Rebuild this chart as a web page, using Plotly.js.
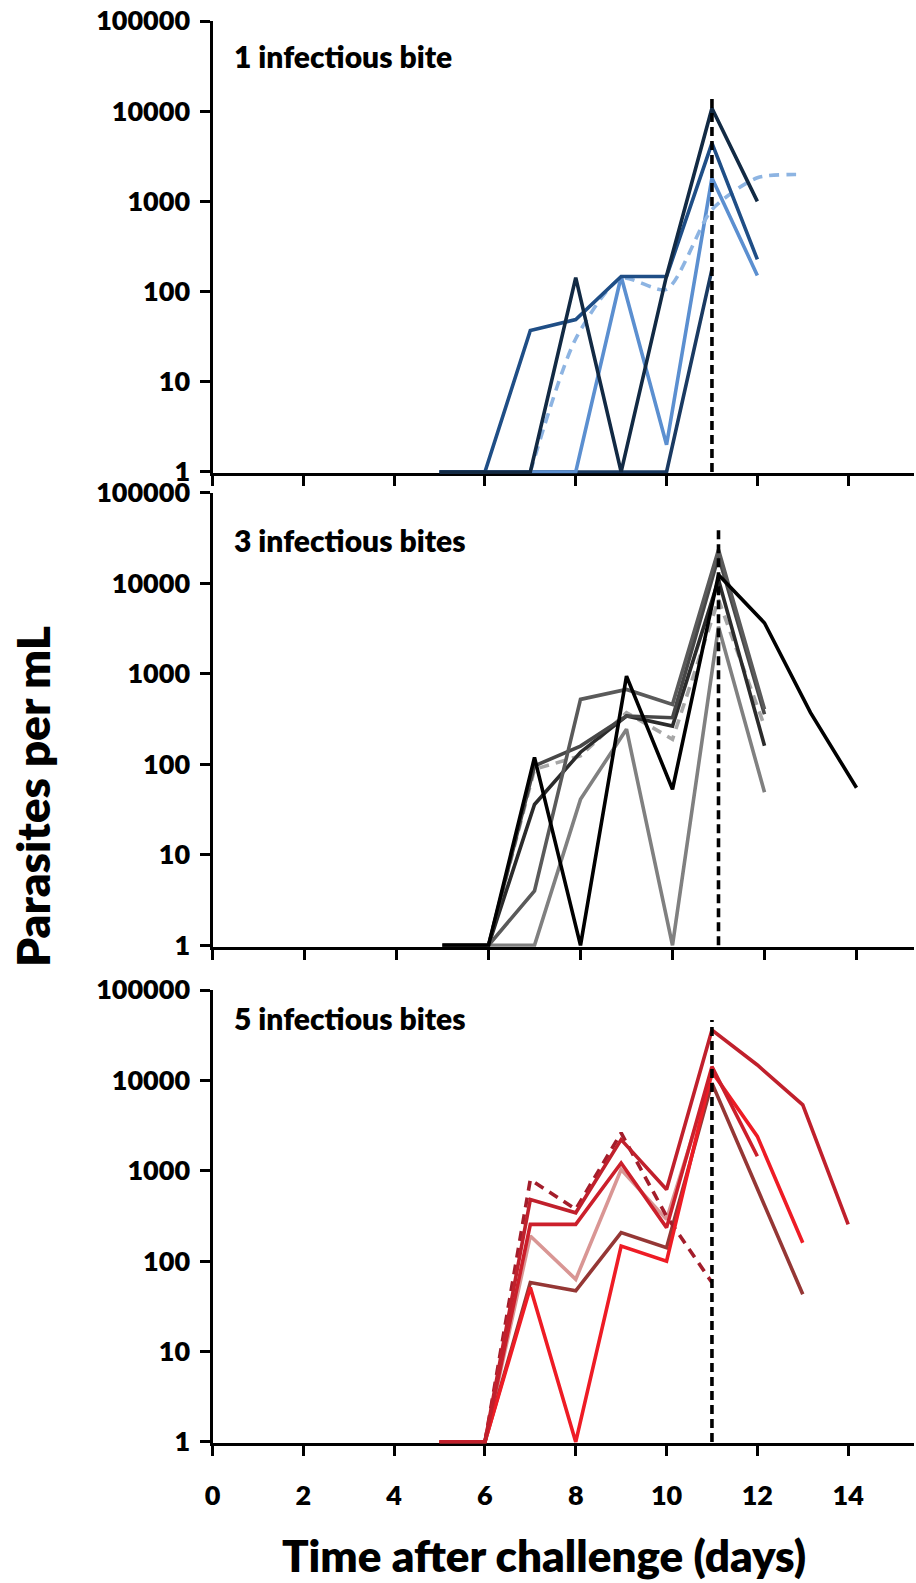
<!DOCTYPE html>
<html><head><meta charset="utf-8">
<script src="https://cdn.plot.ly/plotly-3.0.1.min.js"></script>
<style>body{margin:0;background:#fff}#chart{width:916px;height:1583px}</style>
</head><body><div id="chart"></div>
<script>
// ---------- DATA ----------
const panelLabels = ["1 infectious bite", "3 infectious bites", "5 infectious bites"];
const yTickVals = [1, 10, 100, 1000, 10000, 100000];
const yTickText = ["1", "10", "100", "1000", "10000", "100000"];
const xTickVals = [0, 2, 4, 6, 8, 10, 12, 14];
const xTickText = ["0", "2", "4", "6", "8", "10", "12", "14"];
const markerDay = 11;
const markerTop = [15500, 42000, 46500];

// Panel 1 (1 infectious bite)
const p1aDays = [5, 6, 7, 8, 9, 10, 11, 12];
const p1aVals = [1, 1, 37, 49, 147, 147, 4430, 227];
const p1bDays = [5, 6, 7, 8, 9, 10, 11, 12];
const p1bVals = [1, 1, 1, 143, 1, 150, 10800, 1000];
const p1cDays = [5, 6, 7, 8, 9, 10, 11, 12];
const p1cVals = [1, 1, 1, 1, 147, 2, 1820, 151];
const p1dDays = [5, 6, 7, 8, 9, 10, 11];
const p1dVals = [1, 1, 1, 1, 1, 1, 176];
const p1eDays = [7, 8, 9, 10, 11, 12, 13];
const p1eVals = [1, 30, 140, 106, 810, 1830, 1980];

// Panel 2 (3 infectious bites)
const p2aDays = [5, 6, 7, 8, 9, 10, 11, 12, 13, 14];
const p2aVals = [1, 1, 119, 1, 941, 53, 12400, 3640, 372, 55];
const p2bDays = [5, 6, 7, 8, 9, 10, 11, 12];
const p2bVals = [1, 1, 4, 521, 671, 459, 23400, 405];
const p2cDays = [5, 6, 7, 8, 9, 10, 11, 12];
const p2cVals = [1, 1, 96, 159, 341, 327, 19700, 356];
const p2dDays = [5, 6, 7, 8, 9, 10, 11, 12];
const p2dVals = [1, 1, 36, 136, 341, 264, 10900, 160];
const p2eDays = [5, 6, 7, 8, 9, 10, 11, 12];
const p2eVals = [1, 1, 1, 41, 244, 1, 3300, 49];
const p2fDays = [6, 7, 8, 9, 10, 11, 12];
const p2fVals = [1, 88, 124, 372, 189, 6580, 264];

// Panel 3 (5 infectious bites)
const p3aDays = [5, 6, 7, 8, 9, 10, 11, 12, 13, 14];
const p3aVals = [1, 1, 482, 343, 2210, 621, 36000, 14800, 5370, 255];
const p3bDays = [5, 6, 7, 8, 9, 10, 11, 12];
const p3bVals = [1, 1, 255, 255, 1220, 235, 14200, 1450];
const p3cDays = [5, 6, 7, 8, 9, 10, 11, 12, 13];
const p3cVals = [1, 1, 51, 1, 147, 100, 12500, 2400, 160];
const p3dDays = [5, 6, 7, 8, 9, 10, 11, 12, 13];
const p3dVals = [1, 1, 58, 47, 207, 141, 9330, 620, 43];
const p3eDays = [5, 6, 7, 8, 9, 10, 11];
const p3eVals = [1, 1, 190, 63, 1030, 290, 11500];
const p3fDays = [6, 7, 8, 9, 10, 11];
const p3fVals = [1, 800, 375, 2620, 314, 58];

// ---------- STYLE / LAYOUT ----------
const W = 916, H = 1583;
const FONT = "Lato, 'Open Sans', sans-serif";
const px = v => v / W;
const py = v => 1 - v / H;
const LW = 3.6;

function line(x, y, color, ax, dash, shape) {
  return {
    x: x, y: y, type: "scatter", mode: "lines",
    xaxis: ax[0], yaxis: ax[1], hoverinfo: "skip",
    line: {color: color, width: LW, dash: dash || "solid", shape: shape || "linear", smoothing: 0.7}
  };
}
const A1 = ["x", "y"], A2 = ["x2", "y2"], A3 = ["x3", "y3"];
const DASH = "10px,7px";
const VDASH = "9px,5px";

const traces = [
  line(p1dDays, p1dVals, "#1a3a62", A1),
  line(p1cDays, p1cVals, "#5b8fd0", A1),
  line(p1eDays, p1eVals, "#8db4e2", A1, DASH, "spline"),
  line(p1aDays, p1aVals, "#1f4e86", A1),
  line(p1bDays, p1bVals, "#122a44", A1),
  line([markerDay, markerDay], [1, markerTop[0]], "#000000", A1, VDASH),

  line(p2eDays, p2eVals, "#808080", A2),
  line(p2fDays, p2fVals, "#a6a6a6", A2, DASH),
  line(p2dDays, p2dVals, "#2b2b2b", A2),
  line(p2cDays, p2cVals, "#474747", A2),
  line(p2bDays, p2bVals, "#5a5a5a", A2),
  line(p2aDays, p2aVals, "#000000", A2),
  line([markerDay, markerDay], [1, markerTop[1]], "#000000", A2, VDASH),

  line(p3eDays, p3eVals, "#d99694", A3),
  line(p3dDays, p3dVals, "#953735", A3),
  line(p3fDays, p3fVals, "#a31d2b", A3, DASH),
  line(p3cDays, p3cVals, "#ee1c25", A3),
  line(p3bDays, p3bVals, "#cc1f2b", A3),
  line(p3aDays, p3aVals, "#c0202c", A3),
  line([markerDay, markerDay], [1, markerTop[2]], "#000000", A3, VDASH)
];

const TICKFONT = {family: FONT, size: 27, color: "#000", weight: 800};
const xDom = [px(212.5), px(914)];
function xAxis(anchor, range, labels) {
  return {
    domain: xDom, anchor: anchor, range: range, showgrid: false, zeroline: false,
    showline: true, linecolor: "#000", linewidth: 3, layer: "below traces",
    ticks: "outside", ticklen: 10, tickwidth: 3, tickcolor: "#000",
    tickmode: "array", tickvals: xTickVals, ticktext: xTickText,
    showticklabels: labels, ticklabelstandoff: 16, tickfont: TICKFONT
  };
}
function yAxis(anchor, top, bottom) {
  return {
    domain: [py(bottom), py(top)], anchor: anchor, type: "log", range: [-0.015, 5],
    showgrid: false, zeroline: false, showline: true, linecolor: "#000", linewidth: 3,
    layer: "below traces", ticks: "outside", ticklen: 10, tickwidth: 3, tickcolor: "#000",
    tickmode: "array", tickvals: yTickVals, ticktext: yTickText, ticklabelstandoff: 4,
    tickfont: TICKFONT
  };
}

const labelY = [56, 540, 1018];
const annotations = panelLabels.map((t, i) => ({
  text: t, xref: "paper", yref: "paper", x: px(232), y: py(labelY[i]),
  xanchor: "left", yanchor: "middle", showarrow: false,
  font: {family: FONT, size: 30, color: "#000", weight: 800}
}));
annotations.push({
  text: "Parasites per mL", xref: "paper", yref: "paper", x: px(32), y: py(797),
  xanchor: "center", yanchor: "middle", textangle: -90, showarrow: false,
  font: {family: FONT, size: 46, color: "#000", weight: 800}
});
annotations.push({
  text: "Time after challenge (days)", xref: "paper", yref: "paper", x: px(544), y: py(1555),
  xanchor: "center", yanchor: "middle", showarrow: false,
  font: {family: FONT, size: 44, color: "#000", weight: 800}
});

const layout = {
  width: W, height: H, margin: {l: 0, r: 0, t: 0, b: 0},
  paper_bgcolor: "#fff", plot_bgcolor: "rgba(0,0,0,0)", showlegend: false,
  xaxis: xAxis("y", [0, 15.45], false),
  yaxis: yAxis("x", 21, 473.3),
  xaxis2: xAxis("y2", [0, 15.25], false),
  yaxis2: yAxis("x2", 492.7, 946.7),
  xaxis3: xAxis("y3", [0, 15.45], true),
  yaxis3: yAxis("x3", 990, 1443.3),
  annotations: annotations
};

Plotly.newPlot("chart", traces, layout, {staticPlot: true, displayModeBar: false});
</script>
</body></html>
